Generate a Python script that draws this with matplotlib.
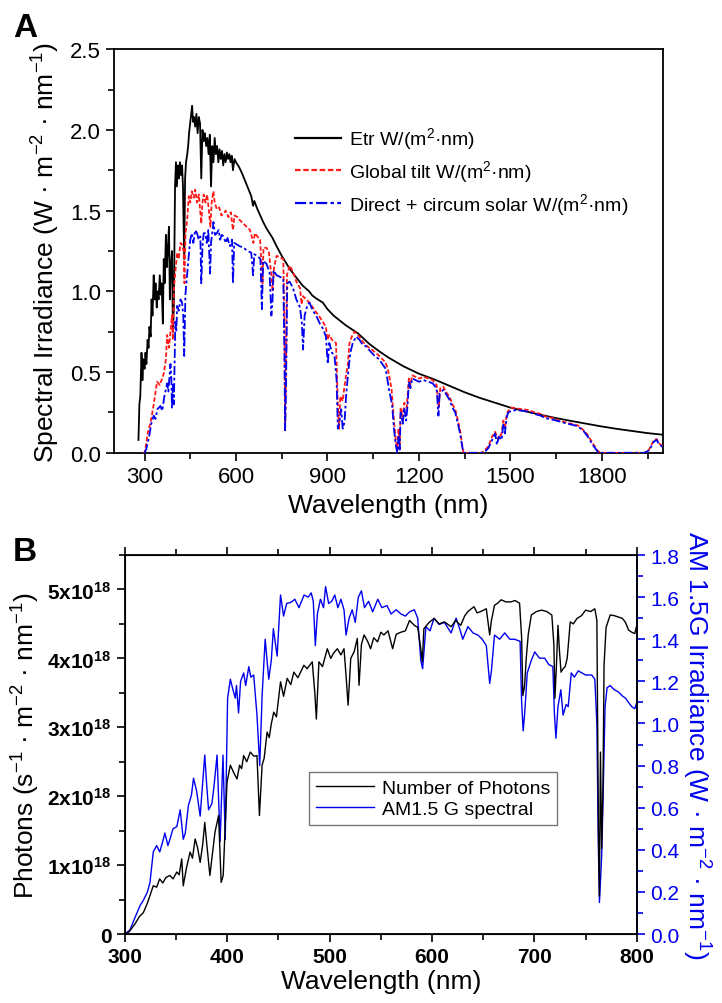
import matplotlib
matplotlib.use("Agg")
import matplotlib.pyplot as plt
from matplotlib.ticker import MultipleLocator, FixedLocator, FormatStrFormatter
from matplotlib.lines import Line2D

plt.rcParams['font.family'] = ['Liberation Sans', 'DejaVu Sans']
plt.rcParams['mathtext.fontset'] = 'custom'
plt.rcParams['mathtext.rm'] = 'Liberation Sans'
plt.rcParams['mathtext.it'] = 'Liberation Sans:italic'
plt.rcParams['mathtext.bf'] = 'Liberation Sans:bold'

# ---------------- Panel A: solar spectra (W m^-2 nm^-1) ----------------
etr_wl = [280, 283, 286, 290, 293, 296, 300, 303, 306, 310, 313, 316, 320, 323, 326, 330, 333, 336,
          340, 343, 346, 350, 353, 356, 360, 363, 366, 370, 373, 376, 380, 383, 386, 390, 393, 396,
          400, 403, 406, 410, 413, 416, 420, 423, 426, 430, 433, 436, 440, 443, 446, 450, 453, 456,
          459, 462, 466, 470, 474, 478, 482, 486, 490, 494, 498, 502, 506, 510, 514, 518, 522, 526,
          530, 534, 538, 542, 546, 550, 554, 558, 562, 566, 570, 574, 578, 582, 586, 590, 595, 600,
          610, 620, 635, 650, 656, 660, 670, 689, 700, 720, 733, 750, 776, 800, 819, 840, 850, 860,
          885, 900, 920, 947, 960, 980, 1000, 1037, 1069, 1100, 1150, 1200, 1250, 1300, 1350, 1400,
          1450, 1500, 1550, 1600, 1650, 1700, 1750, 1800, 1850, 1900, 1950, 2000]
etr_val = [0.08, 0.30, 0.35, 0.62, 0.45, 0.58, 0.52, 0.62, 0.55, 0.70, 0.65, 0.78, 0.72, 0.95, 0.85,
           1.10, 0.95, 1.05, 0.90, 1.00, 0.95, 1.10, 0.98, 1.05, 0.80, 1.20, 1.05, 1.35, 1.15, 1.25,
           1.40, 0.95, 1.15, 1.25, 0.75, 0.90, 1.65, 1.80, 1.65, 1.78, 1.70, 1.80, 1.72, 1.78, 1.65,
           1.20, 1.70, 1.80, 1.85, 1.90, 1.98, 2.05, 2.10, 2.15, 2.05, 2.08, 2.02, 2.10, 1.98, 2.08,
           2.04, 1.70, 2.00, 1.93, 1.98, 1.90, 1.95, 1.85, 1.97, 1.65, 1.90, 1.80, 1.95, 1.85, 1.90,
           1.80, 1.88, 1.82, 1.87, 1.78, 1.85, 1.80, 1.86, 1.82, 1.85, 1.80, 1.84, 1.75, 1.82, 1.80,
           1.77, 1.73, 1.66, 1.59, 1.53, 1.56, 1.51, 1.43, 1.39, 1.33, 1.28, 1.22, 1.14, 1.08, 1.035,
           1.00, 0.975, 0.96, 0.93, 0.89, 0.85, 0.81, 0.79, 0.765, 0.74, 0.675, 0.63, 0.59, 0.535,
           0.49, 0.455, 0.415, 0.375, 0.34, 0.31, 0.28, 0.257, 0.235, 0.215, 0.197, 0.18, 0.163,
           0.148, 0.135, 0.122, 0.112]

glob_wl = [295, 300, 305, 310, 320, 330, 341, 350, 363, 370, 374, 380, 385, 390, 393, 396, 400, 407,
           412, 418, 423, 428, 431, 434, 440, 445, 450, 455, 461, 466, 472, 478, 486, 490, 494, 500,
           505, 510, 516, 520, 526, 530, 537, 545, 552, 559, 566, 575, 583, 590, 595, 605, 613, 624,
           635, 646, 657, 662, 670, 679, 687, 690, 700, 708, 716, 720, 725, 733, 745, 755, 759, 761,
           764, 767, 776, 787, 798, 810, 815, 820, 830, 841, 852, 863, 875, 885, 895, 900, 906, 915,
           928, 934, 938, 942, 950, 955, 961, 967, 972, 980, 988, 1000, 1015, 1030, 1045, 1058, 1070,
           1080, 1091, 1100, 1110, 1118, 1124, 1129, 1133, 1137, 1140, 1147, 1152, 1160, 1167, 1172,
           1178, 1190, 1200, 1215, 1232, 1245, 1258, 1265, 1270, 1280, 1287, 1300, 1310, 1319, 1328,
           1335, 1341, 1346, 1370, 1406, 1418, 1428, 1440, 1450, 1460, 1471, 1477, 1482, 1488, 1493,
           1504, 1520, 1540, 1558, 1580, 1600, 1613, 1640, 1660, 1678, 1700, 1721, 1740, 1754, 1770,
           1787, 1800, 1940, 1955, 1971, 1980, 1987, 2000]
glob_val = [0.0, 0.0, 0.05, 0.12, 0.19, 0.30, 0.44, 0.42, 0.49, 0.58, 0.73, 0.65, 0.75, 0.85, 0.70,
            1.01, 1.10, 1.24, 1.20, 1.30, 1.29, 1.25, 1.05, 1.35, 1.45, 1.59, 1.55, 1.62, 1.58, 1.63,
            1.55, 1.60, 1.42, 1.55, 1.60, 1.55, 1.60, 1.52, 1.40, 1.55, 1.62, 1.55, 1.51, 1.52, 1.47,
            1.48, 1.50, 1.46, 1.49, 1.38, 1.47, 1.46, 1.44, 1.42, 1.40, 1.38, 1.30, 1.36, 1.34, 1.32,
            1.05, 1.27, 1.27, 1.24, 1.10, 1.00, 1.15, 1.22, 1.21, 1.20, 0.80, 0.14, 0.50, 1.10, 1.16,
            1.12, 1.06, 1.02, 0.92, 0.97, 0.95, 0.93, 0.90, 0.87, 0.84, 0.81, 0.78, 0.70, 0.73, 0.70,
            0.68, 0.30, 0.15, 0.35, 0.32, 0.40, 0.48, 0.55, 0.68, 0.72, 0.75, 0.73, 0.69, 0.66, 0.64,
            0.62, 0.60, 0.58, 0.56, 0.50, 0.40, 0.20, 0.08, 0.01, 0.15, 0.05, 0.28, 0.22, 0.31, 0.28,
            0.46, 0.42, 0.48, 0.47, 0.46, 0.47, 0.46, 0.45, 0.42, 0.28, 0.40, 0.41, 0.38, 0.35, 0.30,
            0.27, 0.20, 0.14, 0.06, 0.0, 0.0, 0.0, 0.02, 0.04, 0.10, 0.13, 0.08, 0.12, 0.20, 0.15,
            0.24, 0.26, 0.28, 0.275, 0.27, 0.265, 0.25, 0.24, 0.225, 0.215, 0.20, 0.19, 0.18, 0.17,
            0.14, 0.11, 0.06, 0.01, 0.0, 0.0, 0.02, 0.08, 0.085, 0.06, 0.04]

dir_wl = [300, 305, 315, 322, 330, 336, 342, 352, 358, 365, 374, 378, 385, 388, 390, 393, 396, 401,
          404, 407, 412, 418, 423, 427, 430, 434, 439, 444, 450, 455, 460, 466, 472, 478, 483, 486,
          490, 494, 499, 504, 509, 515, 518, 522, 526, 531, 537, 543, 548, 553, 559, 566, 572, 580,
          587, 590, 594, 603, 612, 625, 638, 650, 656, 660, 670, 680, 685, 689, 700, 710, 716, 720,
          723, 733, 744, 755, 759, 761, 764, 768, 776, 787, 798, 810, 816, 820, 825, 835, 841, 852,
          863, 875, 885, 895, 901, 906, 915, 923, 930, 934, 940, 945, 950, 956, 961, 967, 975, 983,
          994, 1005, 1015, 1026, 1040, 1055, 1069, 1080, 1091, 1102, 1112, 1118, 1124, 1129, 1133,
          1137, 1140, 1147, 1152, 1158, 1163, 1167, 1172, 1178, 1190, 1200, 1215, 1232, 1245, 1258,
          1264, 1268, 1280, 1287, 1300, 1310, 1319, 1328, 1335, 1341, 1346, 1406, 1418, 1428, 1440,
          1450, 1456, 1462, 1471, 1477, 1482, 1488, 1493, 1504, 1520, 1540, 1558, 1580, 1600, 1613,
          1640, 1660, 1678, 1700, 1721, 1740, 1754, 1770, 1787, 1800, 1940, 1955, 1971, 1980, 1987,
          2000]
dir_val = [0.0, 0.02, 0.10, 0.18, 0.23, 0.21, 0.27, 0.29, 0.26, 0.35, 0.43, 0.38, 0.55, 0.45, 0.28,
           0.42, 0.30, 0.81, 0.75, 0.91, 0.88, 0.95, 0.93, 0.85, 0.60, 0.98, 1.09, 1.20, 1.32, 1.36,
           1.30, 1.38, 1.36, 1.32, 1.34, 1.05, 1.28, 1.36, 1.36, 1.30, 1.38, 1.11, 1.30, 1.36, 1.43,
           1.35, 1.36, 1.38, 1.32, 1.35, 1.34, 1.30, 1.33, 1.28, 1.32, 1.05, 1.30, 1.29, 1.28, 1.27,
           1.25, 1.24, 1.10, 1.23, 1.22, 1.20, 0.89, 1.19, 1.17, 1.12, 0.85, 0.95, 1.13, 1.10, 1.09,
           1.08, 0.60, 0.14, 0.40, 1.05, 1.06, 1.02, 0.95, 0.90, 0.80, 0.64, 0.85, 0.92, 0.93, 0.88,
           0.85, 0.80, 0.77, 0.72, 0.55, 0.68, 0.62, 0.60, 0.45, 0.15, 0.20, 0.27, 0.15, 0.19, 0.35,
           0.48, 0.62, 0.68, 0.72, 0.70, 0.67, 0.66, 0.63, 0.60, 0.58, 0.55, 0.52, 0.39, 0.30, 0.15,
           0.05, 0.0, 0.10, 0.02, 0.25, 0.18, 0.28, 0.20, 0.30, 0.44, 0.40, 0.46, 0.45, 0.44, 0.45,
           0.44, 0.43, 0.40, 0.23, 0.37, 0.39, 0.37, 0.33, 0.28, 0.25, 0.18, 0.12, 0.05, 0.0, 0.0,
           0.01, 0.03, 0.08, 0.12, 0.05, 0.10, 0.08, 0.18, 0.12, 0.22, 0.25, 0.26, 0.265, 0.26, 0.255,
           0.24, 0.23, 0.215, 0.205, 0.195, 0.185, 0.175, 0.165, 0.135, 0.10, 0.05, 0.005, 0.0, 0.0,
           0.015, 0.07, 0.08, 0.055, 0.035]

legend_a = ['Etr W/(m$^2$·nm)', 'Global tilt W/(m$^2$·nm)', 'Direct + circum solar W/(m$^2$·nm)']

# ---------------- Panel B: AM1.5G spectrum and photon flux ----------------
am_wl = [300, 305, 310, 314.7, 318, 322, 324.5, 327.7, 331, 334, 337, 339, 342, 344, 347, 350.7, 354,
         357, 359, 362, 365, 367, 370, 373.5, 376, 378, 380, 381.7, 385, 387, 390, 393, 395.8, 398,
         400.3, 403, 405, 407.8, 409, 411, 413, 416, 418, 421, 423, 425.8, 429, 431.7, 434, 437,
         440.5, 443, 445, 448.7, 452, 455, 458, 462, 466, 470, 475, 479, 482, 484, 486, 488, 491,
         494, 496, 499, 502, 505, 508, 511, 514, 516, 519, 522, 525, 528, 531, 534, 538, 542, 547,
         551, 556, 560, 565, 569.6, 574, 578, 582.7, 586, 589, 590.8, 594, 598, 602, 607, 612,
         618.6, 623.5, 627, 630, 635, 640, 644.8, 649, 653, 656.3, 658, 661, 666, 671, 676, 680.7,
         686, 687.5, 689, 690.5, 693, 697, 700.3, 705, 710, 714, 718, 719.5, 721, 723, 725.8, 728,
         731, 733, 736, 739, 742.8, 750, 756, 759, 761, 762.5, 763.5, 765, 765.7, 767, 769, 771,
         774, 778, 782, 786, 789, 791.9, 795, 798, 800]
am_val = [0.0, 0.02, 0.08, 0.134, 0.16, 0.20, 0.245, 0.39, 0.42, 0.39, 0.44, 0.48, 0.42, 0.45, 0.50,
          0.51, 0.59, 0.45, 0.48, 0.61, 0.66, 0.74, 0.68, 0.56, 0.72, 0.85, 0.70, 0.59, 0.62, 0.70,
          0.85, 0.44, 0.85, 0.45, 1.12, 1.21, 1.17, 1.12, 1.18, 1.05, 1.20, 1.24, 1.18, 1.27, 1.22,
          1.23, 1.04, 0.80, 1.13, 1.40, 1.21, 1.30, 1.45, 1.32, 1.61, 1.51, 1.57, 1.575, 1.59, 1.55,
          1.61, 1.60, 1.62, 1.58, 1.37, 1.52, 1.59, 1.55, 1.65, 1.57, 1.58, 1.61, 1.55, 1.59, 1.54,
          1.42, 1.50, 1.54, 1.48, 1.60, 1.63, 1.55, 1.58, 1.53, 1.59, 1.55, 1.56, 1.52, 1.54, 1.52,
          1.51, 1.53, 1.54, 1.50, 1.30, 1.26, 1.46, 1.44, 1.50, 1.47, 1.48, 1.43, 1.50, 1.45, 1.40,
          1.46, 1.43, 1.42, 1.40, 1.37, 1.19, 1.25, 1.42, 1.40, 1.43, 1.40, 1.40, 1.39, 1.10, 0.965,
          1.05, 1.24, 1.30, 1.34, 1.31, 1.31, 1.28, 1.27, 1.05, 0.93, 1.08, 1.16, 1.04, 1.09, 1.08,
          1.24, 1.22, 1.25, 1.23, 1.23, 1.21, 1.00, 0.40, 0.15, 0.30, 0.37, 0.64, 1.08, 1.17, 1.18,
          1.16, 1.15, 1.13, 1.12, 1.10, 1.08, 1.07, 1.10]

# photon flux in units of 1e18 s^-1 m^-2 nm^-1
ph_wl = [300, 304, 310, 314, 318, 322, 325, 327.7, 331, 334, 337, 340, 344, 347, 350.7, 353, 355.5,
         357, 360, 363.7, 366, 368.6, 371, 373.5, 376, 378, 380, 383, 385, 388, 391.5, 394, 396,
         397.5, 399.7, 403, 406, 409.5, 412, 414, 416, 419, 422.5, 426, 429, 431.4, 434, 436, 438.9,
         441, 443, 445.4, 448, 452, 455, 458.5, 462, 465, 469, 474.8, 478, 483, 485.5, 487, 489.5,
         493, 497.7, 501, 504, 507.5, 511, 514, 516, 518, 520.6, 524, 527, 528.7, 531, 533.6, 537,
         540, 543, 546.8, 550, 553, 557, 561.5, 565, 569.6, 574, 578, 582.7, 586, 589, 590.5, 592,
         597, 602, 607, 612, 618.6, 623, 628, 632, 635, 641, 644, 647.6, 653, 656.3, 658, 661, 664,
         667.5, 672, 677.3, 681, 685.5, 687.5, 688.7, 690.4, 692, 694, 697, 702, 707, 712, 717, 719,
         720, 721.5, 723, 724.5, 726, 728, 730, 732, 735, 738, 741.6, 746, 750, 755, 759, 761,
         762.5, 763.5, 764.5, 765.7, 767, 768, 770, 774, 778, 782, 786, 789, 792, 795, 798, 800]
ph_val = [0.0, 0.03, 0.15, 0.25, 0.31, 0.45, 0.58, 0.70, 0.68, 0.80, 0.74, 0.82, 0.85, 0.80, 0.90,
          0.86, 1.09, 0.70, 0.95, 1.19, 1.10, 1.38, 1.25, 1.04, 1.30, 1.62, 1.30, 0.85, 1.10, 1.48,
          1.72, 0.75, 0.85, 1.40, 2.20, 2.45, 2.35, 2.25, 2.45, 2.40, 2.59, 2.50, 2.64, 2.58, 2.59,
          1.72, 2.45, 2.55, 2.93, 2.85, 3.05, 3.22, 3.15, 3.66, 3.45, 3.71, 3.62, 3.80, 3.72, 3.90,
          3.85, 3.95, 3.50, 3.12, 3.95, 3.88, 4.14, 4.00, 4.08, 4.14, 4.05, 4.14, 3.75, 3.32, 4.00,
          4.10, 4.29, 3.61, 4.20, 4.34, 4.25, 4.14, 4.30, 4.24, 4.38, 4.34, 4.40, 4.14, 4.35, 4.38,
          4.40, 4.55, 4.48, 4.45, 4.14, 3.95, 4.43, 4.52, 4.58, 4.50, 4.53, 4.46, 4.55, 4.48, 4.62,
          4.68, 4.75, 4.66, 4.68, 4.72, 4.34, 4.55, 4.77, 4.80, 4.85, 4.82, 4.82, 4.84, 4.80, 4.30,
          3.46, 3.60, 4.00, 4.35, 4.63, 4.68, 4.70, 4.68, 4.63, 4.20, 3.42, 3.90, 4.48, 4.10, 3.80,
          3.85, 3.88, 4.00, 4.53, 4.50, 4.58, 4.62, 4.70, 4.68, 4.72, 4.55, 1.50, 0.55, 2.64, 1.24,
          2.16, 3.90, 4.45, 4.63, 4.62, 4.60, 4.58, 4.52, 4.41, 4.38, 4.36, 4.48]

legend_b = ['Number of Photons', 'AM1.5 G spectral']
photon_ticks = [0, 1, 2, 3, 4, 5]

BLUE = '#0000ee'

fig = plt.figure(figsize=(7.22, 10.04), dpi=100)

# ---- Panel A ----
axA = fig.add_axes([0.158, 0.548, 0.760, 0.402])
axA.plot(etr_wl, etr_val, color='black', lw=1.3, zorder=3)
axA.plot(glob_wl, glob_val, color='#ff1a1a', lw=1.3, dashes=(2.5, 1.2), zorder=4)
axA.plot(dir_wl, dir_val, color=BLUE, lw=1.3, dashes=(5, 1.5, 1.5, 1.5), zorder=5)
axA.set_xlim(200, 2000)
axA.set_ylim(0, 2.5)
axA.xaxis.set_major_locator(MultipleLocator(300))
axA.xaxis.set_minor_locator(FixedLocator([450, 750, 1050, 1350, 1650, 1950]))
axA.yaxis.set_major_locator(MultipleLocator(0.5))
axA.yaxis.set_minor_locator(MultipleLocator(0.25))
axA.yaxis.set_major_formatter(FormatStrFormatter('%.1f'))
axA.tick_params(which='both', direction='out', top=False, right=False, labelsize=16, width=1.2)
axA.tick_params(which='major', length=6)
axA.tick_params(which='minor', length=4)
for s in axA.spines.values():
    s.set_linewidth(1.3)
axA.set_xlabel('Wavelength (nm)', fontsize=19, labelpad=4)
axA.set_ylabel('Spectral Irradiance (W · m$^{-2}$ · nm$^{-1}$)', fontsize=19, labelpad=6)
handles_a = [Line2D([], [], color='black', lw=1.6),
             Line2D([], [], color='#ff1a1a', lw=1.6, dashes=(2.5, 1.2)),
             Line2D([], [], color=BLUE, lw=1.6, dashes=(5, 1.5, 1.5, 1.5))]
axA.legend(handles_a, legend_a, loc='upper left', bbox_to_anchor=(0.315, 0.83), frameon=False,
           fontsize=14, handlelength=2.4, handletextpad=0.4, labelspacing=0.35, borderaxespad=0)
fig.text(0.018, 0.972, 'A', fontsize=24, fontweight='bold', va='center', ha='left')

# ---- Panel B ----
axB = fig.add_axes([0.173, 0.0687, 0.709, 0.3775])
axB2 = axB.twinx()
lp, = axB.plot(ph_wl, [v * 1e18 for v in ph_val], color='black', lw=1.0, zorder=3)
la, = axB2.plot(am_wl, am_val, color=BLUE, lw=1.0, zorder=2)
axB.set_zorder(axB2.get_zorder() + 1)
axB.patch.set_visible(False)
axB.set_xlim(300, 800)
axB.set_ylim(0, 5.5e18)
axB2.set_ylim(0, 1.8)
axB.xaxis.set_major_locator(MultipleLocator(100))
axB.xaxis.set_minor_locator(MultipleLocator(50))
axB.yaxis.set_major_locator(FixedLocator([t * 1e18 for t in photon_ticks]))
axB.yaxis.set_minor_locator(FixedLocator([(t + 0.5) * 1e18 for t in photon_ticks]))
axB.set_yticklabels(['0'] + [r'$\mathbf{%dx10^{18}}$' % t for t in photon_ticks[1:]])
axB2.yaxis.set_major_locator(MultipleLocator(0.2))
axB2.yaxis.set_minor_locator(MultipleLocator(0.1))
axB2.yaxis.set_major_formatter(FormatStrFormatter('%.1f'))
axB.tick_params(which='both', direction='out', top=True, right=False, width=1.2)
axB.tick_params(axis='x', labelsize=15)
axB.tick_params(axis='y', labelsize=15)
axB.tick_params(which='major', length=6)
axB.tick_params(which='minor', length=4)
for lab in axB.get_xticklabels() + axB.get_yticklabels():
    lab.set_fontweight('bold')
axB2.tick_params(which='both', direction='out', colors=BLUE, labelsize=15, width=1.2)
axB2.tick_params(which='major', length=6)
axB2.tick_params(which='minor', length=4)
for s in axB.spines.values():
    s.set_linewidth(1.3)
axB2.spines['right'].set_color(BLUE)
axB2.spines['right'].set_linewidth(1.3)
axB.set_xlabel('Wavelength (nm)', fontsize=19, labelpad=2)
axB.set_ylabel('Photons (s$^{-1}$ · m$^{-2}$ · nm$^{-1}$)', fontsize=19, labelpad=4)
axB2.set_ylabel('AM 1.5G Irradiance (W · m$^{-2}$ · nm$^{-1}$)', fontsize=19, color=BLUE,
                rotation=270, labelpad=24)
leg = axB.legend([lp, la], legend_b, loc='lower left', bbox_to_anchor=(0.36, 0.288),
                 borderaxespad=0, fontsize=14, fancybox=False, edgecolor='#555555',
                 handlelength=3.0, handletextpad=0.4, labelspacing=0.2, borderpad=0.35)
leg.get_frame().set_linewidth(1.0)
fig.text(0.018, 0.45, 'B', fontsize=24, fontweight='bold', va='center', ha='left')

fig.savefig('out.png', dpi=100)
